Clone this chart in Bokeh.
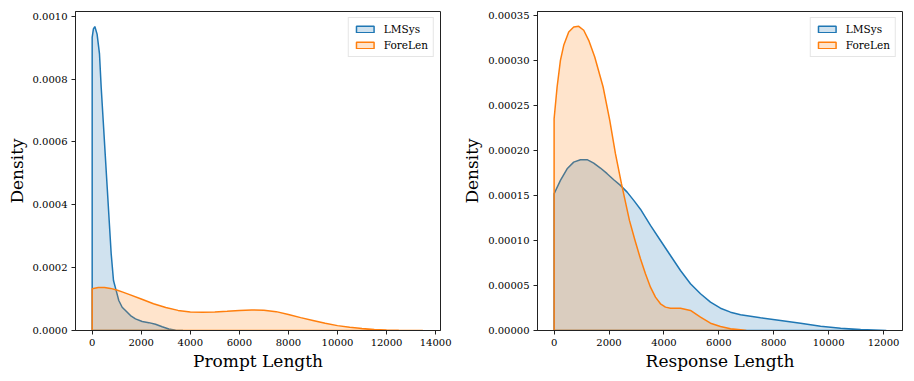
from bokeh.plotting import figure
from bokeh.layouts import row
from bokeh.models import FixedTicker, PrintfTickFormatter, Range1d, Spacer
from bokeh.embed import file_html
from bokeh.resources import INLINE

# ---------------- data ----------------
# Left panel: Prompt Length density
prompt_lmsys_x = [0, 50, 108, 200, 298, 367, 449, 530, 612, 693, 775, 869, 979, 1085,
                  1223, 1358, 1562, 1766, 2039, 2310, 2582, 2855, 3124, 3400, 3700]
prompt_lmsys_y = [93.3, 96.0, 96.7, 94.3, 88.0, 77.4, 66.8, 56.2, 45.6, 35.0, 24.4, 15.9,
                  12.7, 9.55, 7.4, 6.36, 4.77, 3.71, 2.86, 2.5, 2.0, 1.2, 0.5, 0.1, 0.0]
prompt_forelen_x = [0, 250, 500, 750, 1000, 1250, 1500, 2000, 2500, 3000, 3500, 4000, 4500,
                    5000, 5500, 6000, 6500, 7000, 7500, 8000, 8500, 9000, 9500, 10000,
                    10500, 11000, 11500, 12000, 12500, 13000, 13480]
prompt_forelen_y = [13.3, 13.7, 13.7, 13.4, 12.9, 12.2, 11.5, 10.0, 8.5, 7.3, 6.4, 5.9, 5.8,
                    5.85, 6.1, 6.4, 6.55, 6.45, 6.0, 5.1, 4.1, 3.2, 2.3, 1.55, 1.0, 0.6,
                    0.35, 0.18, 0.08, 0.03, 0.0]
prompt_scale = 1e-5

# Right panel: Response Length density
resp_lmsys_x = [0, 230, 474, 714, 958, 1202, 1443, 1687, 1931, 2172, 2416, 2660, 2901, 3145,
                3510, 3874, 4238, 4603, 4967, 5332, 5696, 6060, 6425, 6790, 7519, 8248,
                8977, 9707, 10436, 11165, 11894, 12100]
resp_lmsys_y = [15.22, 16.7, 18.0, 18.74, 19.01, 19.01, 18.63, 18.08, 17.45, 16.78, 16.15,
                15.4, 14.48, 13.5, 11.69, 10.02, 8.35, 6.68, 5.2, 4.09, 3.15, 2.48, 2.04,
                1.75, 1.41, 1.11, 0.81, 0.48, 0.26, 0.11, 0.03, 0.0]
resp_forelen_x = [0, 109, 230, 350, 532, 714, 896, 1079, 1261, 1480, 1785, 2027, 2234, 2453,
                  2744, 2940, 3145, 3327, 3510, 3692, 3874, 4056, 4238, 4603, 4967, 5332,
                  5696, 6060, 6425, 6790, 7000]
resp_forelen_y = [23.57, 27.1, 30.07, 31.74, 33.22, 33.78, 33.85, 33.41, 32.29, 30.43, 27.1,
                  23.39, 19.68, 16.34, 12.25, 10.1, 7.98, 6.31, 4.82, 3.71, 2.97, 2.6, 2.48,
                  2.48, 2.23, 1.48, 0.81, 0.45, 0.19, 0.08, 0.0]
resp_scale = 1e-5

series_names = ["LMSys", "ForeLen"]
series_colors = ["#1f77b4", "#ff7f0e"]

prompt_xticks = [0, 2000, 4000, 6000, 8000, 10000, 12000, 14000]
prompt_yticks = [0.0, 0.0002, 0.0004, 0.0006, 0.0008, 0.0010]
resp_xticks = [0, 2000, 4000, 6000, 8000, 10000, 12000]
resp_yticks = [0.0, 0.00005, 0.00010, 0.00015, 0.00020, 0.00025, 0.00030, 0.00035]

FONT = "DejaVu Serif"


def make_panel(curves, xlabel, xticks, yticks, yfmt, xr, yr, left_border, right_border):
    p = figure(frame_width=365, frame_height=319, output_backend="svg",
               toolbar_location=None, x_range=Range1d(*xr), y_range=Range1d(*yr),
               min_border_left=left_border, min_border_right=right_border,
               min_border_top=11, min_border_bottom=43)
    for (xs, ys, scale), name, color in zip(curves, series_names, series_colors):
        px = [xs[0]] + list(xs)
        py = [0.0] + [v * scale for v in ys]
        p.patch(px, py, fill_color=color, fill_alpha=0.21, line_color=color,
                line_width=1.5, legend_label=name)
    p.xgrid.visible = False
    p.ygrid.visible = False
    p.outline_line_color = "#222222"
    p.outline_line_width = 1
    for ax in (p.xaxis[0], p.yaxis[0]):
        ax.major_label_text_font = FONT
        ax.major_label_text_font_size = "10px"
        ax.major_label_text_color = "black"
        ax.axis_label_text_font = FONT
        ax.axis_label_text_font_size = "17px"
        ax.axis_label_text_font_style = "normal"
        ax.axis_label_text_color = "black"
        ax.minor_tick_line_color = None
        ax.major_tick_in = 0
        ax.major_tick_out = 4
        ax.major_tick_line_color = "#222222"
        ax.axis_line_color = "#222222"
    p.xaxis.ticker = FixedTicker(ticks=xticks)
    p.yaxis.ticker = FixedTicker(ticks=yticks)
    p.yaxis.formatter = PrintfTickFormatter(format=yfmt)
    p.xaxis.major_label_standoff = 4
    p.yaxis.major_label_standoff = 4
    p.xaxis.axis_label = xlabel
    p.yaxis.axis_label = "Density"
    p.xaxis.axis_label_standoff = 2
    p.yaxis.axis_label_standoff = 3

    lg = p.legend[0]
    lg.location = "top_right"
    lg.margin = 6
    lg.padding = 5
    lg.spacing = 4
    lg.label_height = 11
    lg.glyph_height = 8
    lg.glyph_width = 22
    lg.label_standoff = 8
    lg.label_text_font = FONT
    lg.label_text_font_size = "10.5px"
    lg.label_text_color = "black"
    lg.border_line_color = "#cccccc"
    lg.border_line_width = 1
    lg.background_fill_color = "white"
    lg.background_fill_alpha = 0.8
    return p


p1 = make_panel([(prompt_lmsys_x, prompt_lmsys_y, prompt_scale),
                 (prompt_forelen_x, prompt_forelen_y, prompt_scale)],
                "Prompt Length", prompt_xticks, prompt_yticks, "%.4f",
                (-680, 14200), (0, 0.001015), 60, 19)
p2 = make_panel([(resp_lmsys_x, resp_lmsys_y, resp_scale),
                 (resp_forelen_x, resp_forelen_y, resp_scale)],
                "Response Length", resp_xticks, resp_yticks, "%.5f",
                (-605, 12690), (0, 0.000355), 60, 4)

layout = row(Spacer(width=3, height=10), p1, p2)
open("out.html", "w").write(file_html(layout, INLINE))
